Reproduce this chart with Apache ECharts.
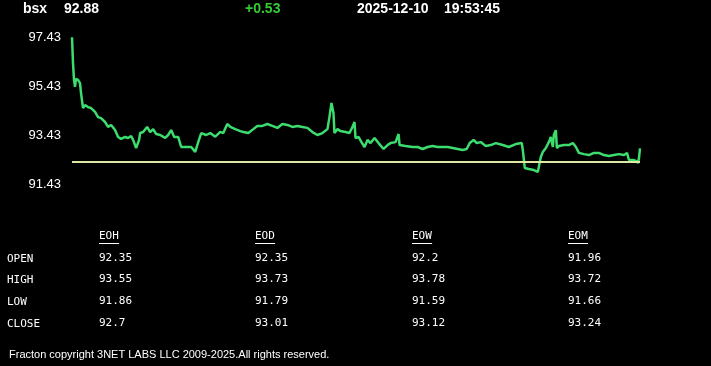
<!DOCTYPE html>
<html>
<head>
<meta charset="utf-8">
<style>
html,body{margin:0;padding:0;background:#000;}
#c{width:711px;height:366px;}
</style>
<script src="https://cdn.jsdelivr.net/npm/echarts@6/dist/echarts.min.js"></script>
</head>
<body>
<div id="c"></div>
<script>
// ---- data ----
var symbol = 'bsx';
var lastPrice = '92.88';
var change = '+0.53';
var dateStr = '2025-12-10';
var timeStr = '19:53:45';
var prevClose = 92.35;
var yTicks = [91.43, 93.43, 95.43, 97.43];
var yMin = 91.43, yMax = 97.43;

// time index (sample number) and price
var t = [0,1,2,3,4,6,8,9,11,13,16,19,23,26,29,33,36,39,43,46,49,53,56,59,61,64,67,68,71,75,78,81,84,88,93,96,99,102,106,109,114,119,123,126,129,134,138,143,148,151,155,158,163,168,171,176,181,185,190,195,200,205,210,215,220,225,230,235,240,245,250,255,257,259,261,262,265,268,273,277,280,282,283,286,289,292,295,298,302,306,311,315,318,323,326,327,333,340,345,350,355,360,365,370,375,380,385,390,394,397,401,404,408,413,418,423,430,436,443,449,450,452,456,461,465,466,468,470,473,476,478,480,481,483,484,486,491,496,500,503,506,511,516,521,526,531,536,541,546,551,554,556,560,563,565,566,567];
var price = [97.42,96.37,95.68,95.40,95.72,95.68,95.55,95.14,94.53,94.65,94.57,94.53,94.37,94.16,94.12,93.96,93.76,93.84,93.63,93.35,93.27,93.35,93.31,93.39,93.23,92.90,93.23,93.51,93.55,93.76,93.55,93.67,93.47,93.43,93.31,93.43,93.63,93.35,93.35,92.94,92.94,92.94,92.74,93.14,93.51,93.43,93.51,93.36,93.56,93.51,93.88,93.76,93.67,93.59,93.55,93.51,93.67,93.80,93.80,93.88,93.80,93.72,93.88,93.84,93.76,93.80,93.76,93.72,93.55,93.43,93.51,93.67,94.16,94.74,94.33,93.51,93.67,93.59,93.55,93.51,93.76,93.96,93.31,93.35,93.14,92.94,93.23,93.10,93.31,93.10,92.86,93.02,93.10,93.14,93.47,93.02,92.98,92.94,92.94,92.86,92.94,92.98,92.94,92.94,92.94,92.90,92.86,92.82,92.86,93.10,93.23,93.10,93.14,92.98,93.02,93.10,93.02,92.94,93.06,93.10,92.82,92.08,92.04,92.00,91.92,92.12,92.53,92.74,92.90,93.14,93.35,92.94,93.43,93.63,92.90,92.98,93.02,93.02,93.10,92.94,92.70,92.65,92.61,92.70,92.70,92.61,92.57,92.61,92.65,92.61,92.70,92.41,92.41,92.37,92.29,92.49,92.88];

var colNames = ['EOH','EOD','EOW','EOM'];
var rowNames = ['OPEN','HIGH','LOW','CLOSE'];
var openVals  = ['92.35','92.35','92.2','91.96'];
var highVals  = ['93.55','93.73','93.78','93.72'];
var lowVals   = ['91.86','91.79','91.59','91.66'];
var closeVals = ['92.7','93.01','93.12','93.24'];
var footer = 'Fracton copyright 3NET LABS LLC 2009-2025.All rights reserved.';

// ---- build ----
var seriesData = t.map(function(v,i){return [v, price[i]];});
var rows = [openVals, highVals, lowVals, closeVals];

var graphics = [];
var hdrFont = 'bold 14px "Liberation Sans", Arial, sans-serif';
function hdr(x, text, color){
  graphics.push({type:'text', left:x, top:2, style:{text:text, fill:color, font:hdrFont}});
}
hdr(23, symbol, '#ffffff');
hdr(64, lastPrice, '#ffffff');
hdr(245, change, '#33cc33');
hdr(357, dateStr, '#ffffff');
hdr(444, timeStr, '#ffffff');

var mono = '11px "DejaVu Sans Mono", "Liberation Mono", monospace';
var colX = [99, 255, 412, 568];
var rowY = [253, 274, 296, 318];
colNames.forEach(function(n, i){
  graphics.push({type:'text', left:colX[i], top:231, style:{text:n, fill:'#ffffff', font:mono}});
  graphics.push({type:'rect', shape:{x:colX[i], y:243, width:n.length*6.7, height:1}, style:{fill:'#ffffff'}});
});
rowNames.forEach(function(n, r){
  graphics.push({type:'text', left:7, top:rowY[r]+1, style:{text:n, fill:'#ffffff', font:mono}});
  rows[r].forEach(function(v, c){
    graphics.push({type:'text', left:colX[c], top:rowY[r], style:{text:v, fill:'#ffffff', font:mono}});
  });
});
graphics.push({type:'text', left:9, top:349, style:{text:footer, fill:'#ffffff', font:'11px "Liberation Sans", Arial, sans-serif'}});

var chart = echarts.init(document.getElementById('c'));
chart.setOption({
  backgroundColor:'#000000',
  animation:false,
  grid:{left:72, right:71, top:37, bottom:182},
  xAxis:{type:'value', min:0, max:567, show:false},
  yAxis:{type:'value', min:yMin, max:yMax,
    splitLine:{show:false}, axisLine:{show:false}, axisTick:{show:false},
    axisLabel:{customValues:yTicks, color:'#ffffff', fontSize:13, margin:11,
      fontFamily:'"Liberation Sans", Arial, sans-serif',
      formatter:function(v){return v.toFixed(2);}}
  },
  series:[{
    type:'line', data:seriesData, showSymbol:false,
    lineStyle:{color:'#3ddc6e', width:2.5},
    markLine:{silent:true, symbol:['none','none'], label:{show:false},
      lineStyle:{color:'#dfe8a2', width:2, type:'solid'},
      data:[{yAxis:prevClose}]}
  }],
  graphic:graphics
});
</script>
</body>
</html>
